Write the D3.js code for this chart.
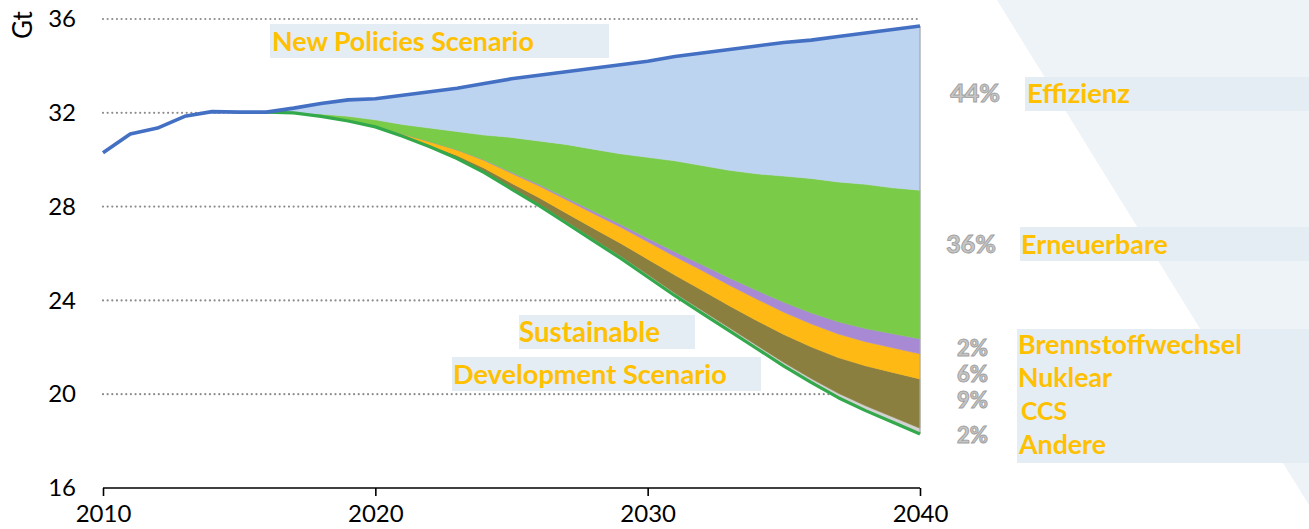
<!DOCTYPE html>
<html>
<head>
<meta charset="utf-8">
<script src="https://cdn.jsdelivr.net/npm/d3@7"></script>
<style>
  html, body { margin: 0; padding: 0; background: #fff; }
  svg { display: block; }
  text { font-family: Lato, "Open Sans", sans-serif; }
</style>
</head>
<body>
<svg id="chart" width="1309" height="529"></svg>
<script>
// ---------------- DATA ----------------
const npsYears = d3.range(2010, 2041);
const npsValues = [30.3, 31.1, 31.35, 31.85, 32.05, 32.03, 32.03, 32.2, 32.4, 32.55,
  32.6, 32.75, 32.9, 33.05, 33.25, 33.45, 33.6, 33.75, 33.9, 34.05,
  34.2, 34.4, 34.55, 34.7, 34.85, 35.0, 35.1, 35.25, 35.4, 35.55, 35.7];

const sdsYears = d3.range(2016, 2041);
const sdsValues = [32.03, 32.0, 31.85, 31.65, 31.4, 31.0, 30.55, 30.05, 29.45, 28.75,
  28.05, 27.3, 26.55, 25.8, 25.0, 24.2, 23.45, 22.7, 21.95, 21.2,
  20.5, 19.85, 19.3, 18.8, 18.3];

// wedges (Gt) per year 2016..2040, stacked on top of the SDS line
const andere = [0, 0, 0, 0, 0, 0, 0.02, 0.03, 0.04, 0.05, 0.06, 0.07, 0.08, 0.09, 0.1,
  0.11, 0.12, 0.13, 0.14, 0.15, 0.17, 0.19, 0.21, 0.23, 0.25];
const ccs = [0, 0, 0, 0, 0, 0.02, 0.05, 0.1, 0.15, 0.2, 0.28, 0.36, 0.45, 0.55, 0.66,
  0.77, 0.86, 0.94, 1.05, 1.2, 1.35, 1.52, 1.7, 1.9, 2.1];
const nuklear = [0, 0, 0, 0, 0.03, 0.08, 0.15, 0.24, 0.33, 0.42, 0.5, 0.57, 0.63, 0.69, 0.74,
  0.79, 0.84, 0.88, 0.92, 0.95, 0.98, 1.01, 1.03, 1.05, 1.07];
const brennstoffwechsel = [0, 0, 0, 0, 0, 0, 0, 0, 0.02, 0.04, 0.06, 0.08, 0.1, 0.12, 0.15,
  0.2, 0.25, 0.31, 0.37, 0.42, 0.47, 0.52, 0.56, 0.6, 0.64];
const effizienz = [0, 0.2, 0.45, 0.7, 0.9, 1.25, 1.55, 1.85, 2.2, 2.5, 2.8, 3.1, 3.45, 3.8, 4.1,
  4.45, 4.8, 5.15, 5.45, 5.7, 5.9, 6.2, 6.45, 6.75, 7.0];
// Erneuerbare = remainder between the two scenario lines

const yTicks = [16, 20, 24, 28, 32, 36];
const xTicks = [2010, 2020, 2030, 2040];

const wedgeLabels = [
  { pct: "44%", name: "Effizienz" },
  { pct: "36%", name: "Erneuerbare" },
  { pct: "2%", name: "Brennstoffwechsel" },
  { pct: "6%", name: "Nuklear" },
  { pct: "9%", name: "CCS" },
  { pct: "2%", name: "Andere" }
];
const scenarioLabels = ["New Policies Scenario", "Sustainable", "Development Scenario"];

// ---------------- LAYOUT ----------------
const svg = d3.select("#chart");
const x = d3.scaleLinear().domain([2010, 2040]).range([103, 920]);
const y = d3.scaleLinear().domain([16, 36]).range([488, 19]);

const ORANGE = "#ffc000";
const BOX = "#e4edf4";

// background diagonal panel
svg.append("polygon")
  .attr("points", "997,0 1309,0 1309,505")
  .attr("fill", "#eef3f7");

// label boxes
const boxes = [
  [270, 24, 339, 34], [1025, 77, 284, 34], [1020, 227, 289, 34],
  [1017, 329, 292, 134], [519, 315, 176, 34], [452, 357, 309, 34]
];
svg.append("g").selectAll("rect").data(boxes).join("rect")
  .attr("x", d => d[0]).attr("y", d => d[1])
  .attr("width", d => d[2]).attr("height", d => d[3])
  .attr("fill", BOX);

// gridlines (dotted)
svg.append("g").selectAll("line").data(yTicks.filter(t => t > 16)).join("line")
  .attr("x1", x(2010)).attr("x2", x(2040))
  .attr("y1", d => y(d)).attr("y2", d => y(d))
  .attr("stroke", "#8c8c8c").attr("stroke-width", 2.2)
  .attr("stroke-linecap", "round")
  .attr("stroke-dasharray", "0 4.65");

// build stacked rows
const keys = ["andere", "ccs", "nuklear", "brennstoffwechsel", "erneuerbare", "effizienz"];
const colors = {
  andere: "#d2d2d2", ccs: "#8b7f40", nuklear: "#ffb914",
  brennstoffwechsel: "#a88ad4", erneuerbare: "#7acb47", effizienz: "#bdd4f0"
};
const rows = sdsYears.map((yr, i) => {
  const nps = npsValues[npsYears.indexOf(yr)];
  const r = {
    year: yr, sds: sdsValues[i],
    andere: andere[i], ccs: ccs[i], nuklear: nuklear[i],
    brennstoffwechsel: brennstoffwechsel[i], effizienz: effizienz[i]
  };
  r.erneuerbare = Math.max(0, nps - r.sds - r.andere - r.ccs - r.nuklear - r.brennstoffwechsel - r.effizienz);
  return r;
});
const layers = keys.map(k => ({ key: k, pts: [] }));
rows.forEach(r => {
  let acc = r.sds;
  layers.forEach(L => {
    const v0 = acc; acc += r[L.key];
    L.pts.push({ year: r.year, v0, v1: acc });
  });
});

const curve = d3.curveLinear;
const area = d3.area().curve(curve)
  .x(d => x(d.year)).y0(d => y(d.v0)).y1(d => y(d.v1));
svg.append("g").selectAll("path").data(layers).join("path")
  .attr("d", L => area(L.pts))
  .attr("fill", L => colors[L.key])
  .attr("stroke", L => colors[L.key]).attr("stroke-width", 0.6);

// right border of area
svg.append("line")
  .attr("x1", x(2040)).attr("x2", x(2040))
  .attr("y1", y(npsValues[npsValues.length - 1])).attr("y2", y(sdsValues[sdsValues.length - 1]))
  .attr("stroke", "#a9a9a9").attr("stroke-width", 1.2);

// SDS line
const lineSds = d3.line().curve(curve).x((d, i) => x(sdsYears[i])).y(d => y(d));
svg.append("path").attr("d", lineSds(sdsValues))
  .attr("fill", "none").attr("stroke", "#33a94c").attr("stroke-width", 3.2)
  .attr("stroke-linejoin", "round");

// NPS line
const lineNps = d3.line().curve(curve).x((d, i) => x(npsYears[i])).y(d => y(d));
svg.append("path").attr("d", lineNps(npsValues))
  .attr("fill", "none").attr("stroke", "#4470c4").attr("stroke-width", 3.6)
  .attr("stroke-linejoin", "round");

// x axis
const xAxis = svg.append("g").attr("transform", `translate(0,${y(16)})`)
  .call(d3.axisBottom(x).tickValues(xTicks).tickFormat(d3.format("d")).tickSize(8).tickPadding(9));
xAxis.select(".domain").attr("stroke", "#000").attr("stroke-width", 1.6).attr("d", `M${x(2010)},0H${x(2040)}`);
xAxis.selectAll(".tick line").attr("stroke", "#000").attr("stroke-width", 1.6);
xAxis.selectAll("text").attr("font-size", 24).attr("fill", "#000")
  .style("font-family", "Lato, sans-serif");

// y axis labels
const yAxis = svg.append("g").attr("transform", `translate(76,0)`)
  .call(d3.axisLeft(y).tickValues(yTicks).tickSize(0).tickPadding(0));
yAxis.select(".domain").remove();
yAxis.selectAll("text").attr("font-size", 24).attr("fill", "#000")
  .style("font-family", "Lato, sans-serif");

svg.append("text").attr("transform", "translate(32,25) rotate(-90)")
  .attr("text-anchor", "middle").attr("font-size", 26).attr("fill", "#000").text("Gt");

// helper: fit text to a target width
function fitText(sel, target) {
  const w = sel.node().getComputedTextLength();
  const fs = parseFloat(sel.attr("font-size"));
  sel.attr("font-size", fs * target / w);
}

// scenario labels
const scenPos = [[272, 51, 262], [519, 342, 141], [453, 384, 274]];
scenarioLabels.forEach((t, i) => {
  const s = svg.append("text").attr("x", scenPos[i][0]).attr("y", scenPos[i][1])
    .attr("font-size", 24).attr("font-weight", 700).attr("fill", ORANGE).text(t);
  fitText(s, scenPos[i][2]);
});

// wedge labels
const namePos = [[1027, 103, 103], [1021, 254, 147], [1018, 354, 224], [1018, 387, 94], [1021, 420, 46], [1019, 454, 87]];
const pctPos = [[1000, 102, 25], [996, 253, 25], [988, 356, 22], [988, 382, 22], [988, 408, 22], [988, 443, 22]];
wedgeLabels.forEach((d, i) => {
  const s = svg.append("text").attr("x", namePos[i][0]).attr("y", namePos[i][1])
    .attr("font-size", 24).attr("font-weight", 700).attr("fill", ORANGE).text(d.name);
  fitText(s, namePos[i][2]);
  svg.append("text").attr("x", pctPos[i][0]).attr("y", pctPos[i][1])
    .attr("text-anchor", "end").attr("font-size", pctPos[i][2]).attr("font-weight", 900)
    .attr("fill", "#c6c6c6").attr("stroke", "#9f9f9f").attr("stroke-width", 0.9)
    .text(d.pct);
});
</script>
</body>
</html>
